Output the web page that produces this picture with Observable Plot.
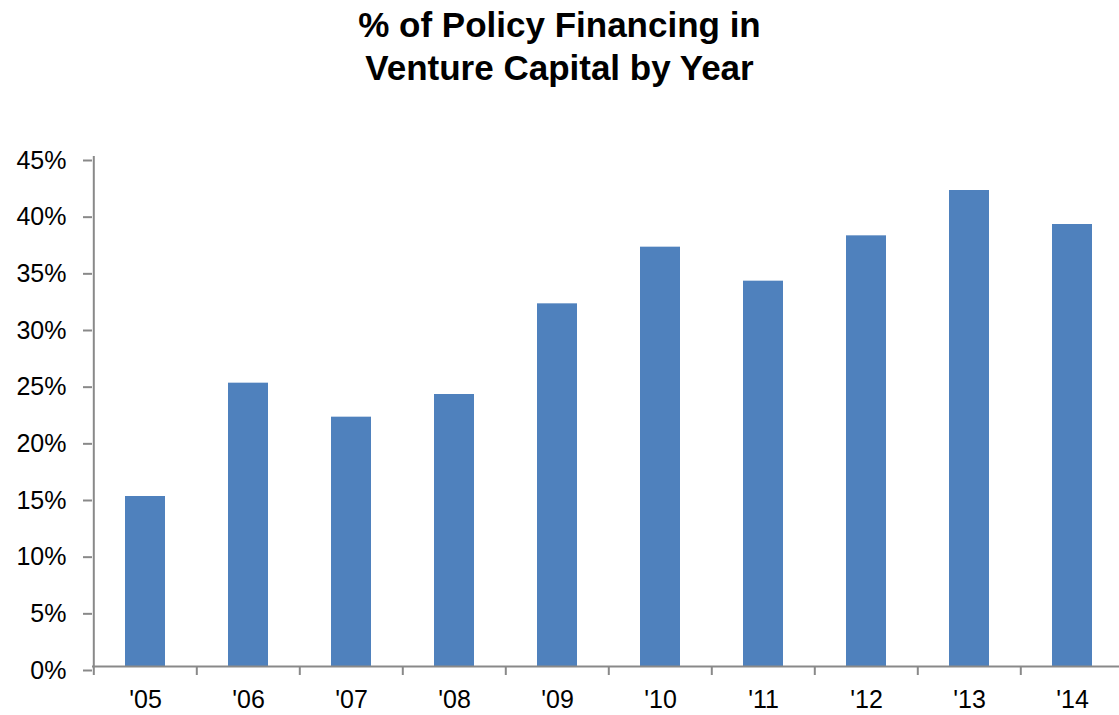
<!DOCTYPE html>
<html>
<head>
<meta charset="utf-8">
<script src="https://cdn.jsdelivr.net/npm/d3@7"></script>
<script src="https://cdn.jsdelivr.net/npm/@observablehq/plot@0.6"></script>
<style>
  html, body { margin: 0; padding: 0; background: #fff; overflow: hidden; }
  #title {
    width: 1119px; height: 100px; box-sizing: border-box; padding-top: 3px;
    text-align: center; font-family: "Liberation Sans", Arial, sans-serif;
    font-weight: bold; font-size: 35px; line-height: 43px; color: #000;
  }
  #chart svg { display: block; }
</style>
</head>
<body>
<div id="title">% of Policy Financing in<br>Venture Capital by Year</div>
<div id="chart"></div>
<script>
const years = ["'05", "'06", "'07", "'08", "'09", "'10", "'11", "'12", "'13", "'14"];
const shares = [15, 25, 22, 24, 32, 37, 34, 38, 42, 39];
const yTicks = [0, 5, 10, 15, 20, 25, 30, 35, 40, 45];

const data = years.map((year, i) => ({year, share: shares[i]}));
const axisColor = "#898989";
const xRange = [92, 1126];
const step = (xRange[1] - xRange[0]) / years.length;

const chart = Plot.plot({
  width: 1119,
  height: 615,
  marginLeft: 92,
  marginRight: 0,
  marginTop: 56,
  marginBottom: 49,
  style: {fontFamily: "'Liberation Sans', Arial, sans-serif", fontSize: "25px", color: "#000", background: "#fff"},
  x: {domain: years, range: xRange, paddingInner: 0.61, paddingOuter: 0.305, align: 0.5},
  y: {domain: [0, 45]},
  marks: [
    Plot.barY(data, {x: "year", y: "share", fill: "#4F81BD"}),
    Plot.ruleY([0], {stroke: axisColor, strokeWidth: 2}),
    Plot.ruleX([years[0]], {dx: -step / 2, y1: 0, y2: 45, stroke: axisColor, strokeWidth: 2}),
    Plot.axisY({ticks: yTicks, tickFormat: d => d + "%", tickSize: 9, tickPadding: 17, stroke: axisColor, strokeWidth: 2, fill: "#000", dy: 4, label: null}),
    Plot.axisX({tickSize: 9, dx: -step / 2, tickFormat: () => "", stroke: axisColor, strokeWidth: 2, label: null}),
    Plot.axisX({tickSize: 0, tickPadding: 24, fill: "#000", label: null})
  ]
});
document.getElementById("chart").appendChild(chart);
</script>
</body>
</html>
